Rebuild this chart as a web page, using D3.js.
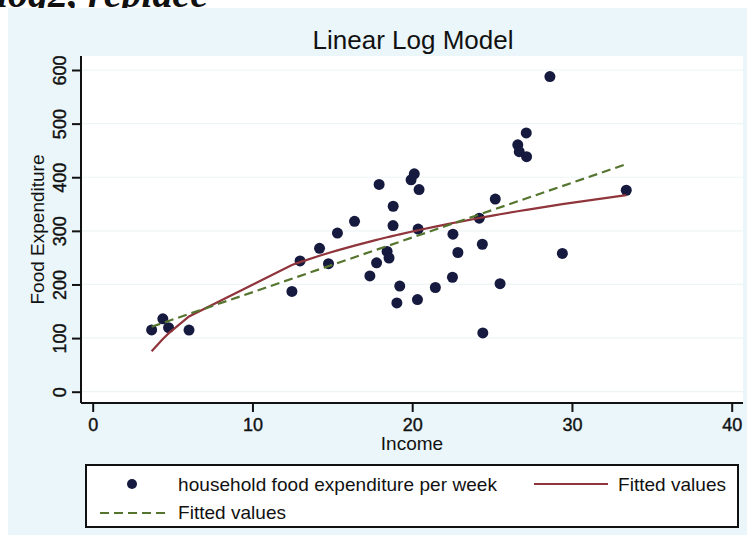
<!DOCTYPE html>
<html>
<head>
<meta charset="utf-8">
<script src="https://cdn.jsdelivr.net/npm/d3@7"></script>
<style>
  html, body { margin: 0; padding: 0; background: #ffffff; }
  svg { display: block; }
  text { font-family: "Liberation Sans", Arial, Helvetica, sans-serif; fill: #111; }
</style>
</head>
<body>
<svg id="chart" width="747" height="535"></svg>
<script>
// Weekly household food expenditure against income (40 households)
const income = [3.69, 4.39, 4.75, 6.03, 12.47, 12.98, 14.20, 14.76, 15.32, 16.39,
                17.35, 17.77, 17.93, 18.43, 18.55, 18.80, 18.81, 19.04, 19.22, 19.93,
                20.13, 20.33, 20.37, 20.43, 21.45, 22.52, 22.55, 22.86, 24.20, 24.39,
                24.42, 25.20, 25.50, 26.61, 26.70, 27.14, 27.16, 28.62, 29.40, 33.40];
const foodExp = [115.22, 135.98, 119.34, 114.96, 187.05, 243.92, 267.43, 238.71, 295.94, 317.78,
                 216.00, 240.35, 386.57, 261.53, 249.34, 309.87, 345.89, 165.54, 196.98, 395.26,
                 406.34, 171.92, 303.23, 377.04, 194.35, 213.48, 293.87, 259.61, 323.71, 275.02,
                 109.71, 359.19, 201.51, 460.36, 447.76, 482.55, 438.29, 587.66, 257.95, 375.73];

// Fitted values of the linear-log model, one per income value
const logFit = [75.4, 98.3, 108.7, 140.3, 236.3, 241.6, 253.5, 258.6, 263.5, 272.4,
                280.0, 283.1, 284.3, 288.0, 288.8, 290.6, 290.6, 292.3, 293.5, 298.3,
                299.6, 300.9, 301.2, 301.6, 308.0, 314.4, 314.6, 316.4, 324.0, 325.0,
                325.2, 329.3, 330.9, 336.5, 337.0, 339.1, 339.2, 346.1, 349.7, 366.5];

// Fitted values of the linear model at the ends of the income range
const linFitX = [3.69, 33.40];
const linFitY = [121.1, 424.4];

const xTicks = [0, 10, 20, 30, 40];
const yTicks = [0, 100, 200, 300, 400, 500, 600];

const titleText = "Linear Log Model";
const xTitle = "Income";
const yTitle = "Food Expenditure";
const legendLabels = ["household food expenditure per week", "Fitted values", "Fitted values"];

const colDot = "#151a3e";
const colLog = "#90353b";
const colLin = "#55752f";

const svg = d3.select("#chart");

// command line fragment above the graph window
svg.append("text")
  .attr("x", -3).attr("y", 7)
  .style("font-family", "'Liberation Serif', 'Times New Roman', serif")
  .style("font-weight", "bold").style("font-style", "italic")
  .style("font-size", "40px")
  .text("log2, replace");

// graph background
svg.append("rect")
  .attr("x", 8).attr("y", 8).attr("width", 739).attr("height", 527)
  .attr("fill", "#eaf6f9");

const plot = { left: 81, right: 743, top: 56, bottom: 403 };

const x = d3.scaleLinear().domain([0, 40]).range([92.7, 731.7]);
const y = d3.scaleLinear().domain([0, 600]).range([391.7, 70]);

// plot region
svg.append("rect")
  .attr("x", plot.left).attr("y", plot.top)
  .attr("width", plot.right - plot.left).attr("height", plot.bottom - plot.top)
  .attr("fill", "#ffffff");

// faint grid lines
svg.append("g").selectAll("line").data(yTicks).join("line")
  .attr("x1", plot.left).attr("x2", plot.right)
  .attr("y1", d => y(d)).attr("y2", d => y(d))
  .attr("stroke", "#eef4f6").attr("stroke-width", 1.2);

// title
svg.append("text")
  .attr("x", 413).attr("y", 49)
  .attr("text-anchor", "middle")
  .style("font-size", "26px")
  .text(titleText);

// y axis
const yAxis = d3.axisLeft(y).tickValues(yTicks).tickSize(9).tickPadding(5);
const gy = svg.append("g").attr("transform", `translate(${plot.left},0)`).call(yAxis);
gy.select(".domain").attr("d", `M0,${plot.top}V${plot.bottom}`).attr("stroke", "#111").attr("stroke-width", 2);
gy.selectAll(".tick line").attr("stroke", "#111").attr("stroke-width", 2);
gy.selectAll(".tick text")
  .attr("x", null).attr("dy", null)
  .attr("transform", "translate(-15,0) rotate(-90)")
  .attr("text-anchor", "middle")
  .style("font-size", "18px").style("font-family", "'Liberation Sans', Arial, sans-serif")
  .attr("fill", "#111").attr("stroke", "#111").attr("stroke-width", 0.4);

// x axis
const xAxis = d3.axisBottom(x).tickValues(xTicks).tickSize(9).tickPadding(6);
const gx = svg.append("g").attr("transform", `translate(0,${plot.bottom})`).call(xAxis);
gx.select(".domain").attr("d", `M${plot.left},0H${plot.right}`).attr("stroke", "#111").attr("stroke-width", 2);
gx.selectAll(".tick line").attr("stroke", "#111").attr("stroke-width", 2);
gx.selectAll(".tick text")
  .style("font-size", "18px").style("font-family", "'Liberation Sans', Arial, sans-serif")
  .attr("fill", "#111").attr("stroke", "#111").attr("stroke-width", 0.4);

// axis titles
svg.append("text")
  .attr("x", 412).attr("y", 450)
  .attr("text-anchor", "middle")
  .style("font-size", "19px")
  .text(xTitle);

svg.append("text")
  .attr("transform", `translate(44,${(plot.top + plot.bottom) / 2}) rotate(-90)`)
  .attr("text-anchor", "middle")
  .style("font-size", "19px")
  .text(yTitle);

// observations
svg.append("g").selectAll("circle").data(income).join("circle")
  .attr("cx", d => x(d))
  .attr("cy", (d, i) => y(foodExp[i]))
  .attr("r", 5.5)
  .attr("fill", colDot);

// linear-log fitted curve
const line = d3.line().x(d => x(d[0])).y(d => y(d[1]));
svg.append("path")
  .datum(income.map((d, i) => [d, logFit[i]]))
  .attr("d", line)
  .attr("fill", "none").attr("stroke", colLog).attr("stroke-width", 2.2);

// linear fitted line
svg.append("path")
  .datum(linFitX.map((d, i) => [d, linFitY[i]]))
  .attr("d", line)
  .attr("fill", "none").attr("stroke", colLin).attr("stroke-width", 2.2)
  .attr("stroke-dasharray", "9,5");

// legend
const lg = svg.append("g");
lg.append("rect")
  .attr("x", 86).attr("y", 465).attr("width", 652).attr("height", 62)
  .attr("fill", "#ffffff").attr("stroke", "#111").attr("stroke-width", 2);
lg.append("circle").attr("cx", 132).attr("cy", 484).attr("r", 5).attr("fill", colDot);
lg.append("text").attr("x", 178).attr("y", 491).style("font-size", "19px")
  .attr("textLength", 319).attr("lengthAdjust", "spacing").text(legendLabels[0]);
lg.append("line").attr("x1", 534).attr("x2", 608).attr("y1", 484).attr("y2", 484)
  .attr("stroke", colLog).attr("stroke-width", 2.2);
lg.append("text").attr("x", 618).attr("y", 491).style("font-size", "19px")
  .attr("textLength", 108).attr("lengthAdjust", "spacing").text(legendLabels[1]);
lg.append("line").attr("x1", 100).attr("x2", 168).attr("y1", 513).attr("y2", 513)
  .attr("stroke", colLin).attr("stroke-width", 2.2).attr("stroke-dasharray", "9,5");
lg.append("text").attr("x", 178).attr("y", 519).style("font-size", "19px")
  .attr("textLength", 108).attr("lengthAdjust", "spacing").text(legendLabels[2]);
</script>
</body>
</html>
